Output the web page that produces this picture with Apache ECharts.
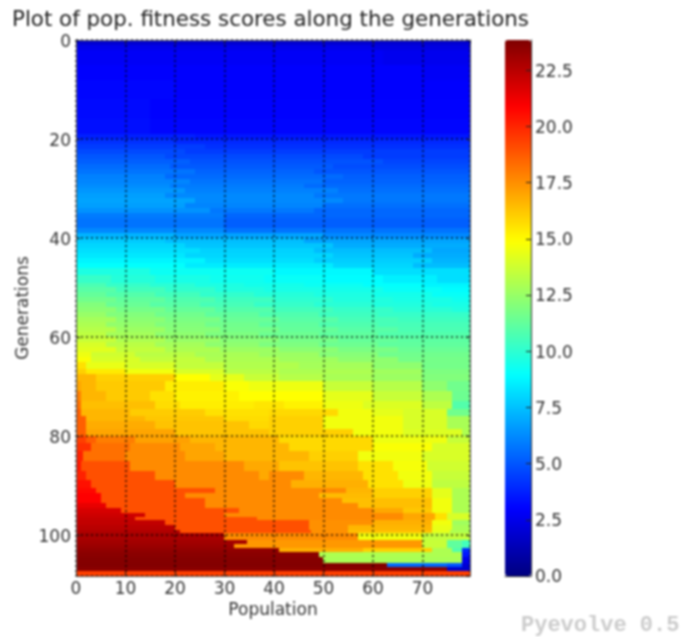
<!DOCTYPE html>
<html><head><meta charset="utf-8">
<style>html,body{margin:0;padding:0;background:#fff}#c{width:687px;height:637px;filter:blur(0.85px)}</style>
<script src="https://cdn.jsdelivr.net/npm/echarts@6/dist/echarts.min.js"></script>
</head><body><div id="c"></div>
<script>
const chartTitle = 'Plot of pop. fitness scores along the generations';
const xTicksLabel = 'Population';
const yTicksLabel = 'Generations';
const watermark = 'Pyevolve 0.5';
const colorMax = 23.85;
const jetColors = ['#00007f','#0000ff','#007fff','#00ffff','#7fff7f','#ffff00','#ff7f00','#ff0000','#7f0000'];
// Each band: generation from, generation to, then pairs of fitness score, end of population run
const scoresEarly = [
 [0,1,[1.9,80]],
 [1,2,[2.5,60,2.3,80]],
 [2,5,[2.8,62,2.6,80]],
 [5,8,[2.95,70,2.8,80]],
 [8,12,[3.1,20,2.95,80]],
 [12,16,[3.2,15,3,80]],
 [16,19,[3.3,15,3.1,80]],
 [19,20,[3.7,24,3.5,80]],
 [20,21,[4.1,20,3.9,80]],
 [21,22,[4.4,26,4.1,80]],
 [22,23,[4.7,22,4.4,80]],
 [23,24,[5.0,18,4.7,58,4.4,80]],
 [24,25,[5.2,23,4.9,62,4.6,80]],
 [25,26,[5.5,19,5.1,52,4.8,80]],
 [26,27,[5.7,24,5.3,48,5.0,80]],
 [27,28,[6.0,18,5.5,54,5.2,80]],
 [28,29,[6.1,23,5.7,50,5.3,80]],
 [29,30,[6.3,19,5.9,46,5.5,80]],
 [30,31,[6.5,22,6.0,53,5.6,80]],
 [31,32,[6.7,18,6.2,48,5.8,80]],
 [32,33,[6.8,24,6.2,54,5.8,80]],
 [33,34,[6.7,22,6.1,50,5.6,80]],
 [34,35,[6.4,27,5.8,48,5.4,80]],
 [35,36,[5.9,30,5.4,80]],
 [36,38,[5.7,30,5.2,80]],
 [38,39,[6.2,30,5.7,80]],
 [39,40,[7.2,20,6.8,50,6.2,80]],
 [40,41,[7.7,18,7.4,46,6.8,80]],
 [41,42,[8.0,22,7.6,52,7.0,80]],
 [42,43,[8.2,25,7.9,48,7.4,72,6.9,80]],
 [43,44,[8.4,22,8.0,52,7.6,68,7.0,80]],
 [44,45,[8.7,26,8.2,48,7.8,72,7.2,80]],
 [45,46,[9.0,22,8.5,52,8.0,68,7.4,80]],
 [46,47.5,[9.6,15,9.2,40,8.8,60,8.2,80]]
];
const scoresMiddle = [
 [47.5,49,[10.2,7,9.8,16,9.5,27,9.3,38,9.1,50,8.9,62,8.6,73,8.2,80]],
 [49,50,[10.7,6,10.2,15,9.9,24,9.6,34,9.4,46,9.2,58,9,70,8.7,80]],
 [50,51,[11,8,10.5,18,10.1,28,9.7,38,9.5,50,9.4,62,9.1,74,8.9,80]],
 [51,52,[11.3,6,10.9,16,10.5,25,10.1,36,9.8,48,9.6,60,9.4,72,9.1,80]],
 [52,53,[11.6,8,11.2,18,10.8,28,10.4,40,10,52,9.7,64,9.5,76,9.3,80]],
 [53,54,[12,6,11.4,15,11,25,10.6,36,10.2,48,9.9,60,9.7,72,9.5,80]],
 [54,55,[12.2,8,11.7,18,11.3,28,10.9,40,10.5,52,10.2,64,9.9,76,9.7,80]],
 [55,56,[12.5,6,12,16,11.6,26,11.2,37,10.8,49,10.4,61,10.2,80]],
 [56,57,[12.8,8,12.2,18,11.8,29,11.4,41,11,53,10.6,65,10.4,80]],
 [57,58,[13,6,12.4,16,12,26,11.6,37,11.2,49,10.8,61,10.6,80]],
 [58,59,[13.2,8,12.6,18,12.1,29,11.7,41,11.3,53,11,65,10.7,80]],
 [59,60,[13.4,6,12.8,16,12.3,26,11.9,37,11.5,49,11.2,61,10.9,80]],
 [60,61,[13.6,8,13,18,12.5,29,12.1,41,11.7,53,11.3,65,11.1,80]],
 [61,62,[14,6,13.3,16,12.8,26,12.3,37,11.9,49,11.5,61,11.2,80]],
 [62,63,[14.2,8,13.5,18,13,29,12.6,41,12.2,53,11.8,65,11.4,80]],
 [63,64,[14.5,3,13.8,12,13.3,24,12.9,37,12.6,49,12.1,61,11.6,80]],
 [64,65,[14.8,3,14,13,13.5,26,13,41,12.7,53,12.3,65,11.7,80]],
 [65,66.5,[15.6,2,14.4,10,14,20,13.5,30,13.1,45,12.8,60,12.3,70,11.7,80]],
 [66.5,67.5,[16.0,2,15.4,10,14.6,20,14,30,13.3,41,13,60,12.7,70,11.9,80]],
 [67.5,69,[16.6,4,16,20,14.9,27,14.3,34,13.6,41,13.2,50,12.9,60,12.6,70,12,80]],
 [69,71,[17,1,16.6,4,16.15,18,15.3,30,14.8,35,14.5,50,13.6,60,13.2,70,12.3,75,11.6,80]],
 [71,73,[17.9,1,16.6,6,16.15,15,15.6,20,15.2,33,14.9,50,14.3,60,13.6,70,13,76,11.5,80]],
 [73,74.5,[18.25,1,16.4,16,15.7,21,15.3,36,15.5,42,15.2,50,14.5,58,14.1,70,13.4,76,10.9,80]],
 [74.5,76,[18.65,1,16.6,11,16.1,26,15.6,39,15.8,53,14.6,60,14.3,66,14,75,11.6,80]],
 [76,77,[18.65,2,16.6,14,16.2,30,15.7,39,16,50,14.6,66,14,75,12.9,80]],
 [77,78.5,[18.65,2,16.85,16,16.3,35,15.8,39,16,50,14.6,66,14,75,12.9,80]],
 [78.5,80,[18.65,2,17,20,16.3,39,16,56,14.6,66,14.1,78,13,80]]
];
const scoresLate = [
 [80,81.5,[19.4,2,18.65,4,17.9,12,17.1,23,16.6,41,15.8,60,14.5,75,13.6,80]],
 [81.5,83,[19.75,3,18.25,11,17.6,21,17,28,16.6,43,15.8,60,14.8,72,14,80]],
 [83,85,[20.1,1.5,18.25,10,17.6,22,17,30,16.6,47,16,57,14.6,70,14,80]],
 [85,87,[20.3,1,19,11,17.6,34,16.9,41,16.3,57,15.6,64,14.7,71,13.8,80]],
 [87,89,[20.1,2,19,16,17.6,37,16.9,39,17.6,46,16.6,58,15.6,65,14.6,72,13.6,80]],
 [89,90.5,[20.5,3,19,20,17.6,43.5,16.75,59,15.6,66,14.5,72,13.4,80]],
 [90.5,91.5,[20.7,4,19,28,17.6,54.5,16.6,60,16,72,14.3,76,13,80]],
 [91.5,92.5,[20.9,5,19,22,17.6,49,16.5,60,16,72,14.3,76,13,80]],
 [92.5,93.5,[20.9,5,19,26,17.6,53.7,16.4,72,14.6,76,13,80]],
 [93.5,94.5,[21.4,6,19,26,17.6,57,16.4,72,14.6,76,13,80]],
 [94.5,95.5,[21.8,9,19,33,17.6,60,16.95,66,16.2,72,14.6,76,13,80]],
 [95.5,96.3,[22,14,19,30,17.6,66,16.95,72.5,15.6,75,14,80]],
 [96.3,97,[22.2,12,19,36.5,17.6,66,16.95,72.5,15.6,75,14,80]],
 [97,98,[22.3,18,19,47,17.5,60,16.75,72,14.6,76,12.7,80]],
 [98,99,[22.5,20,19,47,17.5,55,16.6,72,14.4,76,12.9,80]],
 [99,99.7,[22.7,21,19,47.5,17.5,55,16.4,72,14.3,75.5,13,80]],
 [99.7,101,[22.9,30,17.6,57,14.6,70,13.5,80]],
 [101,101.8,[23,34.5,17.3,70,13.6,75,11.2,78,10.5,80]],
 [101.8,102.7,[23.2,32,17.3,70,13.6,75,11.2,78,10.5,80]],
 [102.7,103.5,[23.4,41,16.75,58,16,72,13,76,10.85,78,4,80]],
 [103.5,104.5,[23.6,49,13,78,3.5,80]],
 [104.5,105.6,[23.7,50,12.9,78,2.5,80]],
 [105.6,106.4,[23.75,62.8,5.5,75,5,78,2,80]],
 [106.4,107.3,[23.6,75,1.8,80]],
 [107.3,108.3,[19.4,80]]
];
const cells = [];
[...scoresEarly, ...scoresMiddle, ...scoresLate].forEach(([r0, r1, runs]) => {
  let c0 = 0;
  for (let i = 0; i < runs.length; i += 2) {
    cells.push([c0, runs[i + 1], r0, r1, runs[i]]);
    c0 = runs[i + 1];
  }
});
const ink = '#333';
const fontSize = 17;
const frame = {show:true,onZero:false,lineStyle:{color:'#555',width:1}};
const dots = {show:true,lineStyle:{color:'#000',width:1.6,opacity:0.8,type:[2,3]}};
const tick = {show:true,inside:true,length:4,lineStyle:{color:'#222'}};
const xBase = {type:'value',min:0,max:79.6,interval:10,gridIndex:0,z:5};
const yBase = {type:'value',min:0,max:108.3,interval:20,inverse:true,gridIndex:0,z:5};
const chart = echarts.init(document.getElementById('c'));
chart.setOption({
  animation:false,
  backgroundColor:'#fff',
  title:{text:chartTitle,left:12,top:10,padding:0,textStyle:{fontFamily:'DejaVu Sans',fontSize:21.4,fontWeight:'normal',color:'#222'}},
  grid:[{left:76,top:40,width:394,height:536},{left:505,top:40,width:26,height:536}],
  xAxis:[
   {...xBase,position:'bottom',name:xTicksLabel,nameLocation:'middle',nameGap:26,nameMoveOverlap:false,
    nameTextStyle:{fontFamily:'DejaVu Sans',fontSize,color:ink},
    axisLine:frame,axisTick:tick,splitLine:dots,
    axisLabel:{showMaxLabel:false,margin:5,fontFamily:'DejaVu Sans',fontSize,color:ink}},
   {...xBase,position:'top',axisLine:frame,axisTick:{...tick},splitLine:{show:false},axisLabel:{show:false}},
   {type:'value',gridIndex:1,min:0,max:1,position:'bottom',axisLine:{...frame,lineStyle:{color:'#333'}},axisTick:{show:false},splitLine:{show:false},axisLabel:{show:false},z:5}
  ],
  yAxis:[
   {...yBase,position:'left',name:yTicksLabel,nameLocation:'middle',nameGap:44,nameRotate:90,nameMoveOverlap:false,
    nameTextStyle:{fontFamily:'DejaVu Sans',fontSize,color:ink},
    axisLine:frame,axisTick:tick,splitLine:dots,
    axisLabel:{showMaxLabel:false,margin:5,verticalAlign:'top',lineHeight:5,fontFamily:'DejaVu Sans',fontSize,color:ink}},
   {...yBase,position:'right',axisLine:frame,axisTick:{...tick},splitLine:{show:false},axisLabel:{show:false}},
   {type:'value',gridIndex:1,min:0,max:colorMax,interval:2.5,position:'right',z:5,
    axisLine:{...frame,lineStyle:{color:'#333'}},axisTick:{show:true,inside:true,length:5,lineStyle:{color:'#222'}},splitLine:{show:false},
    axisLabel:{showMaxLabel:false,margin:4,verticalAlign:'top',lineHeight:4,fontFamily:'DejaVu Sans',fontSize,color:ink,formatter:v=>v.toFixed(1)}}
  ],
  visualMap:{type:'continuous',seriesIndex:0,dimension:4,min:0,max:colorMax,calculable:false,showLabel:false,
    left:505,top:40,itemWidth:26,itemHeight:536,padding:0,borderRadius:0,text:['',''],inRange:{color:jetColors},realtime:false,hoverLink:false},
  graphic:[{type:'text',left:521,top:614,style:{text:watermark,fontFamily:'Liberation Mono',fontWeight:'bold',fontSize:22,fill:'#ccc'}}],
  series:[{
    type:'custom',coordinateSystem:'cartesian2d',xAxisIndex:0,yAxisIndex:0,
    data:cells,clip:true,encode:{x:[0,1],y:[2,3]},
    renderItem:(params,api)=>{
      const a=api.coord([api.value(0),api.value(2)]);
      const b=api.coord([api.value(1),api.value(3)]);
      const x0=Math.round(a[0]),y0=Math.round(a[1]);
      return {type:'rect',shape:{x:x0,y:y0,width:Math.round(b[0])-x0,height:Math.round(b[1])-y0},
        style:{fill:api.visual('color')}};
    }
  }]
});
</script></body></html>
